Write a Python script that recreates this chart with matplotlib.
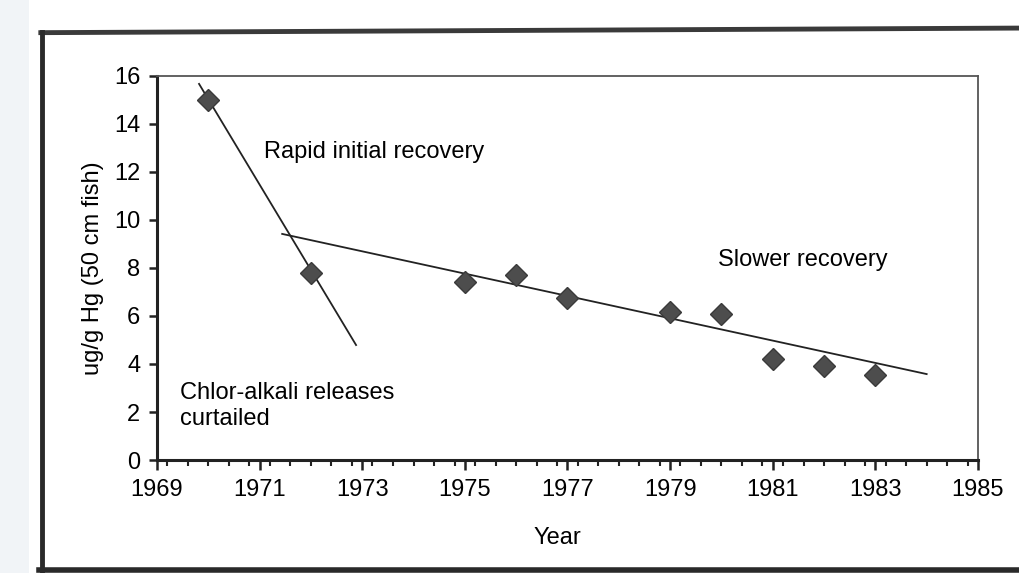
import matplotlib
matplotlib.use("Agg")
import matplotlib.pyplot as plt
from matplotlib.lines import Line2D
from matplotlib.patches import Rectangle
from matplotlib.ticker import MultipleLocator

plt.rcParams['font.family'] = ['Liberation Sans', 'DejaVu Sans']

years = [1970, 1972, 1975, 1976, 1977, 1979, 1980, 1981, 1982, 1983]
hg = [15.0, 7.8, 7.4, 7.7, 6.75, 6.15, 6.1, 4.2, 3.9, 3.55]

rapid_x = [1969.82, 1972.88]
rapid_y = [15.67, 4.79]
slow_x = [1971.44, 1984.0]
slow_y = [9.42, 3.58]

xticks = [1969, 1971, 1973, 1975, 1977, 1979, 1981, 1983, 1985]
yticks = [0, 2, 4, 6, 8, 10, 12, 14, 16]

FS = 17

fig = plt.figure(figsize=(10.2, 5.73), dpi=100)
fig.patch.set_facecolor('white')

# page edge shading and outer frame
fig.add_artist(Rectangle((0, 0), 0.028, 1, transform=fig.transFigure,
                         facecolor='#f1f4f7', edgecolor='none', zorder=0))
fig.add_artist(Line2D([0.040, 1.0], [0.943, 0.951], transform=fig.transFigure,
                      color='#3a3a3a', lw=3.5))
fig.add_artist(Line2D([0.041, 0.041], [0.0, 0.945], transform=fig.transFigure,
                      color='#2a2a2a', lw=3.5))
fig.add_artist(Line2D([0.038, 1.0], [0.006, 0.006], transform=fig.transFigure,
                      color='#2a2a2a', lw=4))

ax = fig.add_axes([0.1539, 0.1972, 0.8049, 0.6702])
ax.set_xlim(1969, 1985)
ax.set_ylim(0, 16)

ax.plot(rapid_x, rapid_y, color='#222222', lw=1.3)
ax.plot(slow_x, slow_y, color='#222222', lw=1.3)
ax.plot(years, hg, linestyle='none', marker='D', markersize=11,
        markerfacecolor='#4d4d4d', markeredgecolor='#3a3a3a')

ax.set_xticks(xticks)
ax.set_xticklabels([str(t) for t in xticks])
ax.set_yticks(yticks)
ax.xaxis.set_minor_locator(MultipleLocator(0.4))
ax.tick_params(axis='both', which='major', labelsize=FS, color='#222222',
               direction='out', length=7, width=1.8, pad=7)
ax.tick_params(axis='x', which='minor', direction='out', length=4, width=1.5,
               color='#222222')
ax.tick_params(axis='y', which='major', length=6, pad=6)

for s in ['left', 'bottom']:
    ax.spines[s].set_linewidth(2.2)
    ax.spines[s].set_color('#222222')
for s in ['top', 'right']:
    ax.spines[s].set_linewidth(1.3)
    ax.spines[s].set_color('#555555')

ax.set_xlabel('Year', fontsize=FS)
ax.xaxis.set_label_coords(0.488, -0.175)
ax.set_ylabel('ug/g Hg (50 cm fish)', fontsize=FS)
ax.yaxis.set_label_coords(-0.0646, 0.5)

ax.text(1971.09, 12.82, 'Rapid initial recovery', fontsize=FS, va='center', ha='left')
ax.text(1979.93, 8.33, 'Slower recovery', fontsize=FS, va='center', ha='left')
ax.text(1969.45, 2.25, 'Chlor-alkali releases\ncurtailed', fontsize=FS,
        va='center', ha='left', linespacing=1.2)

fig.savefig('out.png', dpi=100)
